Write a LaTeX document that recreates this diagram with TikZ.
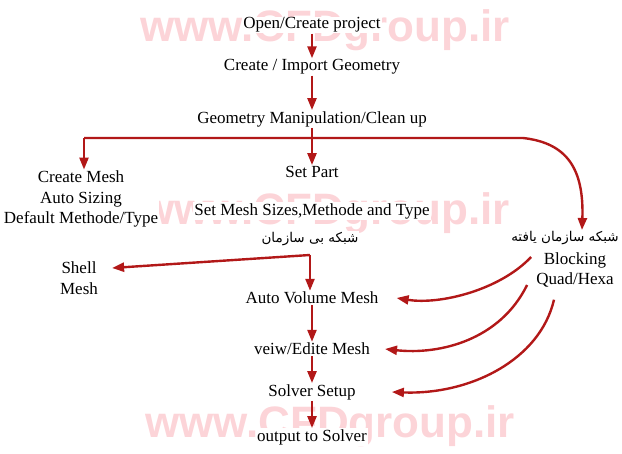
\documentclass[tikz,border=0pt]{standalone}
\usepackage{fontspec}
\setmainfont{Liberation Serif}
\newfontfamily\wmfont{Liberation Sans}
\newfontfamily\farsifont[Script=Arabic]{DejaVu Sans}
\TeXXeTstate=1
\usetikzlibrary{arrows.meta}
\definecolor{flowred}{RGB}{178,24,24}
\definecolor{wmpink}{RGB}{252,212,216}
\tikzset{
  stage/.style={font=\fontsize{17}{20.5}\selectfont, inner sep=1pt, align=center, fill=white},
  farsi/.style={font=\farsifont\fontsize{13.5}{15}\selectfont, inner sep=1pt, fill=white},
  flow/.style={draw=flowred, line width=2.4pt, -{Triangle[length=12pt,width=9pt]}},
  watermark/.style={font=\wmfont\bfseries\fontsize{44}{44}\selectfont, text=wmpink, anchor=base, inner sep=0pt}
}
\begin{document}
\begin{tikzpicture}[x=1pt,y=-1pt]
\useasboundingbox (0,0) rectangle (622,454);
% watermark
\node[watermark] (wm1) at (325,42) {www.CFDgroup.ir};
\node[watermark] (wm2) at (325,225) {www.CFDgroup.ir};
\node[watermark] (wm3) at (330,438) {www.CFDgroup.ir};

% main column
\node[stage] (open) at (312,25) {Open/Create project};
\node[stage] (import) at (312,67) {Create / Import Geometry};
\node[stage] (clean) at (312,119) {Geometry Manipulation/Clean up};
\node[stage] (setpart) at (312,172) {Set Part};
\node[stage] (setsizes) at (312,211) {Set Mesh Sizes,Methode and Type};
\node[farsi] (unstruct) at (310,239) {\beginR شبکه بی سازمان\endR};
\node[stage] (autovol) at (312,298) {Auto Volume Mesh};
\node[stage] (edit) at (312,349) {veiw/Edite Mesh};
\node[stage] (solver) at (312,392) {Solver Setup};
\node[stage] (output) at (312,437) {output to Solver};

% side branches
\node[stage] (createmesh) at (81,199) {Create Mesh\\Auto Sizing\\Default Methode/Type};
\node[stage] (shell) at (79,278) {Shell\\Mesh};
\node[farsi] (struct) at (565,238) {\beginR شبکه سازمان یافته\endR};
\node[stage] (blocking) at (575,270) {Blocking\\Quad/Hexa};

\coordinate (lcorner) at (84,138);
\coordinate (rbend) at (523,138);
\coordinate (ubranch) at (310,255);

\draw[flow] (open) -- (import);
\draw[flow] (import) -- (clean);
\draw[flow] (clean) -- (setpart);
\draw[flow] (lcorner) -- (lcorner |- createmesh.north);
\draw[flow] (lcorner) -- (rbend) .. controls (568,143) and (584,170) .. ([xshift=17pt]struct.north);
\draw[flow] (ubranch) -- ([xshift=13pt,yshift=10pt]shell.east);
\draw[flow] (ubranch) -- (ubranch |- autovol.north);
\draw[flow] (autovol) -- (edit);
\draw[flow] (edit) -- (solver);
\draw[flow] (solver) -- (output);

% structured mesh feeds
\draw[flow] ([xshift=-4pt,yshift=13pt]blocking.west) .. controls (500,290) and (440,305) .. ([xshift=17pt]autovol.east);
\draw[flow] ([xshift=-8pt,yshift=-15pt]blocking.west) .. controls (500,340) and (440,355) .. ([xshift=14pt]edit.east);
\draw[flow] ([xshift=-21pt,yshift=-11pt]blocking.south) .. controls (540,360) and (470,395) .. ([xshift=35pt]solver.east);
\end{tikzpicture}
\end{document}
